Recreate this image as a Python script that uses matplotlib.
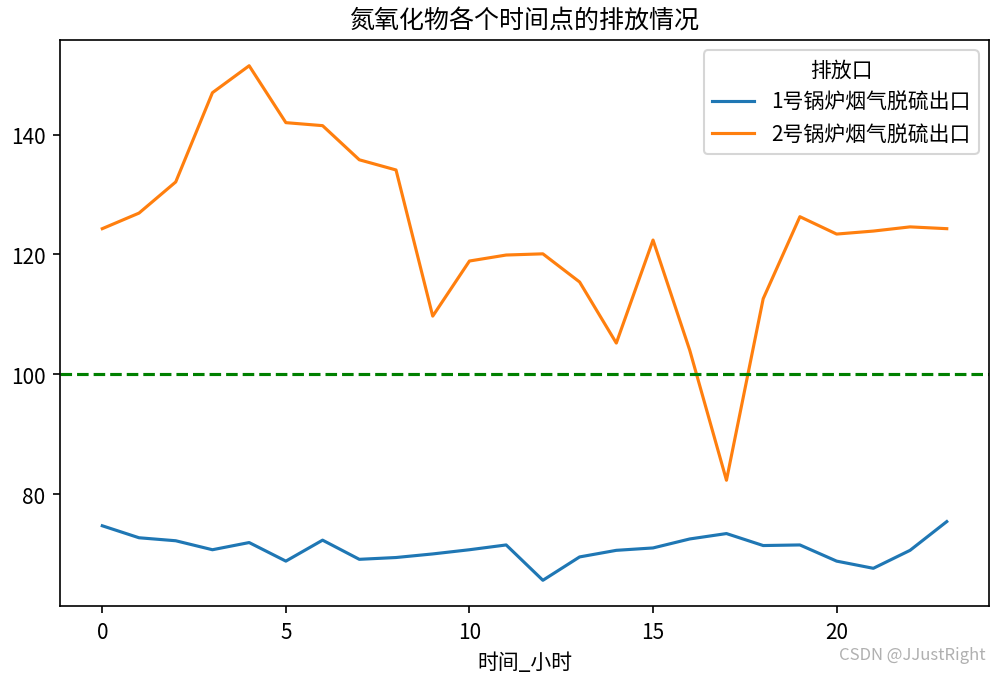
import matplotlib
matplotlib.use('Agg')
import matplotlib.pyplot as plt

plt.rcParams['font.family'] = ['Noto Sans CJK SC', 'DejaVu Sans']
plt.rcParams['axes.unicode_minus'] = False

# 时间点 (小时)
hours = list(range(24))
# 1号锅炉烟气脱硫出口
outlet1 = [74.7, 72.7, 72.2, 70.7, 71.9, 68.8, 72.3, 69.1, 69.4, 70.0, 70.7, 71.5,
           65.6, 69.5, 70.6, 71.0, 72.5, 73.4, 71.4, 71.5, 68.8, 67.6, 70.6, 75.4]
# 2号锅炉烟气脱硫出口
outlet2 = [124.3, 126.9, 132.1, 147.0, 151.5, 142.0, 141.5, 135.8, 134.1, 109.7, 118.9, 119.9,
           120.1, 115.4, 105.2, 122.4, 104.0, 82.3, 112.6, 126.3, 123.4, 123.9, 124.6, 124.3]
labels = ['1号锅炉烟气脱硫出口', '2号锅炉烟气脱硫出口']
limit = 100

fig = plt.figure(figsize=(1001/150, 678/150), dpi=150)
ax = fig.add_axes([0.06, 0.1047, 0.928, 0.8348])

ax.plot(hours, outlet1, color='tab:blue', label=labels[0])
ax.plot(hours, outlet2, color='tab:orange', label=labels[1])
ax.axhline(limit, color='green', linestyle='--')

ax.set_title('氮氧化物各个时间点的排放情况', fontsize=12)
ax.set_xlabel('时间_小时')
ax.legend(title='排放口', loc='upper right')

fig.text(0.985, 0.02, 'CSDN @JJustRight', color='#b0b0b0', fontsize=8, ha='right', va='bottom')

fig.savefig('out.png', dpi=150)
